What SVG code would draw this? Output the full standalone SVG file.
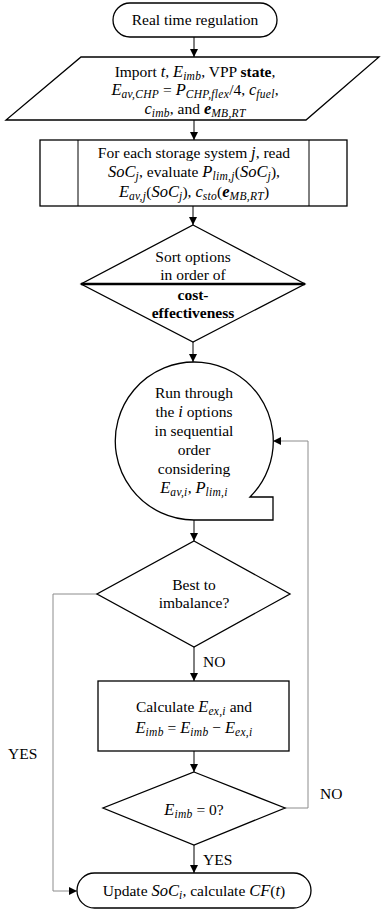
<svg xmlns="http://www.w3.org/2000/svg" width="381" height="910" viewBox="0 0 381 910">
<style>
.shape{fill:#fff;stroke:#000;stroke-width:1.3}
.t{font-family:"Liberation Serif",serif;font-size:15.5px;fill:#000;text-anchor:middle}
.l{font-family:"Liberation Serif",serif;font-size:15.5px;fill:#000}
.m{font-style:italic;font-size:16.5px}
.s{font-style:italic;font-size:11.5px;letter-spacing:0.3px}
.b{font-weight:bold}
.c{fill:none;stroke:#000;stroke-width:1}
.g{fill:none;stroke:#8c8c8c;stroke-width:1}
</style>
<defs>
<marker id="ah" viewBox="0 0 10 10" refX="10" refY="5" markerWidth="8" markerHeight="8" markerUnits="userSpaceOnUse" orient="auto">
<path d="M0,0 L10,5 L0,10 Z" fill="#000"/>
</marker>
</defs>
<rect width="381" height="910" fill="#fff"/>

<g id="connectors">
<line class="c" x1="194" y1="37" x2="194" y2="57" marker-end="url(#ah)"/>
<line class="c" x1="194" y1="120" x2="194" y2="140" marker-end="url(#ah)"/>
<line class="c" x1="193" y1="206" x2="193" y2="225" marker-end="url(#ah)"/>
<line class="c" x1="193" y1="342" x2="193" y2="362" marker-end="url(#ah)"/>
<line class="c" x1="194" y1="520" x2="194" y2="541" marker-end="url(#ah)"/>
<line class="c" x1="194" y1="647" x2="194" y2="681" marker-end="url(#ah)"/>
<line class="c" x1="194" y1="751" x2="194" y2="772" marker-end="url(#ah)"/>
<line class="c" x1="194" y1="845" x2="194" y2="873" marker-end="url(#ah)"/>
<polyline class="g" points="97,594 53,594 53,891 77,891" marker-end="url(#ah)"/>
<polyline class="g" points="285,808 308,808 308,441 273,441" marker-end="url(#ah)"/>
<text class="l" x="203" y="667">NO</text>
<text class="l" x="203" y="865">YES</text>
<text class="l" x="8" y="759">YES</text>
<text class="l" x="320" y="799">NO</text>
</g>

<g id="start">
<rect class="shape" x="113" y="3" width="164" height="34" rx="17" ry="17"/>
<text class="t" x="195" y="25">Real time regulation</text>
</g>

<g id="import">
<polygon class="shape" points="81,57 379,57 306,120 6,120"/>
<text class="t" x="195" y="77">Import <tspan class="m">t</tspan>, <tspan class="m">E</tspan><tspan class="s" dy="2.5">imb</tspan><tspan dy="-2.5">, VPP </tspan><tspan class="b">state</tspan>,</text>
<text class="t" x="195" y="95"><tspan class="m">E</tspan><tspan class="s" dy="2.5">av,CHP</tspan><tspan dy="-2.5"> = </tspan><tspan class="m">P</tspan><tspan class="s" dy="2.5">CHP,flex</tspan><tspan dy="-2.5">/4, </tspan><tspan class="m">c</tspan><tspan class="s" dy="2.5">fuel</tspan><tspan dy="-2.5">,</tspan></text>
<text class="t" x="195" y="114"><tspan class="m">c</tspan><tspan class="s" dy="2.5">imb</tspan><tspan dy="-2.5">, and </tspan><tspan class="m b">e</tspan><tspan class="s" dy="2.5">MB,RT</tspan></text>
</g>

<g id="storage">
<rect class="shape" x="40" y="140" width="307" height="66"/>
<line class="c" x1="78" y1="140" x2="78" y2="206" stroke-width="1.3"/>
<line class="c" x1="309" y1="140" x2="309" y2="206" stroke-width="1.3"/>
<text class="t" x="194" y="158">For each storage system <tspan class="m">j</tspan>, read</text>
<text class="t" x="194" y="177"><tspan class="m">SoC</tspan><tspan class="s" dy="3">j</tspan><tspan dy="-3">, evaluate </tspan><tspan class="m">P</tspan><tspan class="s" dy="3">lim,j</tspan><tspan dy="-3">(</tspan><tspan class="m">SoC</tspan><tspan class="s" dy="3">j</tspan><tspan dy="-3">),</tspan></text>
<text class="t" x="194" y="197"><tspan class="m">E</tspan><tspan class="s" dy="3">av,j</tspan><tspan dy="-3">(</tspan><tspan class="m">SoC</tspan><tspan class="s" dy="3">j</tspan><tspan dy="-3">), </tspan><tspan class="m">c</tspan><tspan class="s" dy="3">sto</tspan><tspan dy="-3">(</tspan><tspan class="m b">e</tspan><tspan class="s" dy="3">MB,RT</tspan><tspan dy="-3">)</tspan></text>
</g>

<g id="sort">
<polygon class="shape" points="193,225 305,284 193,342 81,284"/>
<line x1="81" y1="284" x2="305" y2="284" stroke="#000" stroke-width="2.5"/>
<text class="t" x="193" y="262">Sort options</text>
<text class="t" x="193" y="280">in order of</text>
<text class="t b" x="193" y="300">cost-</text>
<text class="t b" x="193" y="318">effectiveness</text>
</g>

<g id="run">
<path class="shape" d="M250,497 A79,79 0 1 0 194,520 L273,520 L273,497 Z"/>
<text class="t" x="194" y="398">Run through</text>
<text class="t" x="194" y="417">the <tspan class="m">i</tspan> options</text>
<text class="t" x="194" y="436">in sequential</text>
<text class="t" x="194" y="455">order</text>
<text class="t" x="194" y="474">considering</text>
<text class="t" x="194" y="493"><tspan class="m">E</tspan><tspan class="s" dy="3">av,i</tspan><tspan dy="-3">, </tspan><tspan class="m">P</tspan><tspan class="s" dy="3">lim,i</tspan></text>
</g>

<g id="best">
<polygon class="shape" points="194,541 290,594 194,647 97,594"/>
<text class="t" x="194" y="590">Best to</text>
<text class="t" x="194" y="608">imbalance?</text>
</g>

<g id="calc">
<rect class="shape" x="98" y="681" width="191" height="70"/>
<text class="t" x="194" y="712">Calculate <tspan class="m">E</tspan><tspan class="s" dy="3">ex,i</tspan><tspan dy="-3"> and</tspan></text>
<text class="t" x="194" y="733"><tspan class="m">E</tspan><tspan class="s" dy="3">imb</tspan><tspan dy="-3"> = </tspan><tspan class="m">E</tspan><tspan class="s" dy="3">imb</tspan><tspan dy="-3"> − </tspan><tspan class="m">E</tspan><tspan class="s" dy="3">ex,i</tspan></text>
</g>

<g id="zero">
<polygon class="shape" points="194,772 285,808 194,845 103,808"/>
<text class="t" x="194" y="815"><tspan class="m">E</tspan><tspan class="s" dy="3">imb</tspan><tspan dy="-3"> = 0?</tspan></text>
</g>

<g id="end">
<rect class="shape" x="77" y="873" width="234" height="35" rx="17.5" ry="17.5"/>
<text class="t" x="194" y="896">Update <tspan class="m">SoC</tspan><tspan class="s" dy="3">i</tspan><tspan dy="-3">, calculate </tspan><tspan class="m">CF</tspan>(<tspan class="m">t</tspan>)</text>
</g>
</svg>
